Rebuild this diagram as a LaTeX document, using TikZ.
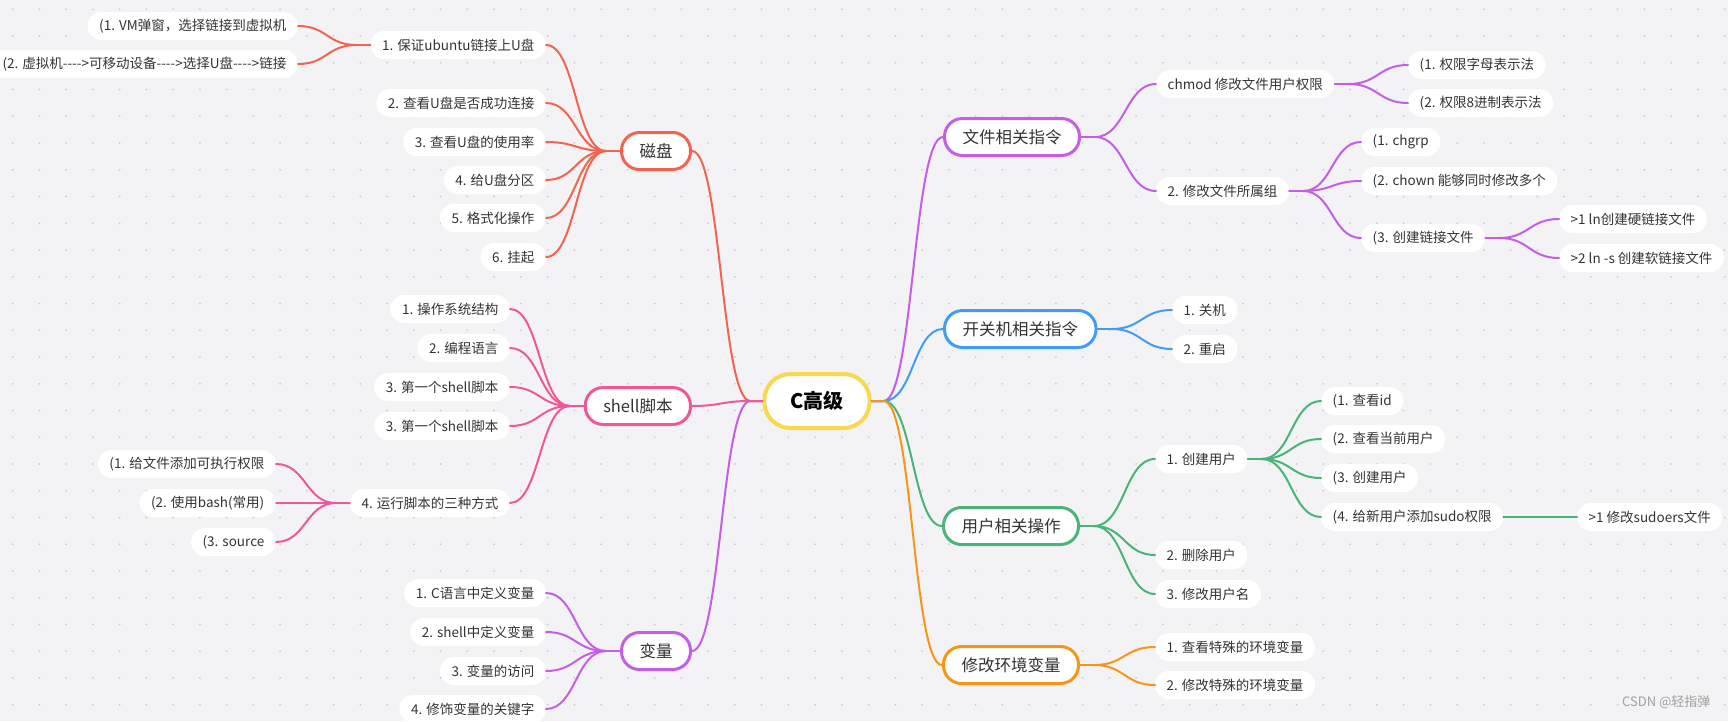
\documentclass[tikz,border=0pt]{standalone}
\usepackage{fontspec}
\setmainfont{Noto Sans CJK SC}
\usepackage{xcolor}
\usetikzlibrary{calc}
\definecolor{bg}{RGB}{243,243,245}
\definecolor{dotc}{RGB}{203,203,208}
\definecolor{txt}{RGB}{51,51,51}
\definecolor{yel}{RGB}{247,216,80}
\definecolor{cred}{RGB}{241,101,80}
\definecolor{cpink}{RGB}{238,88,150}
\definecolor{cpurp}{RGB}{196,94,228}
\definecolor{cblue}{RGB}{66,156,246}
\definecolor{cgreen}{RGB}{72,180,122}
\definecolor{corange}{RGB}{246,150,22}
\definecolor{wm}{RGB}{160,160,160}
\newcommand\arrw{-\kern0pt-\kern0pt-\kern0pt-\kern0pt>}

\begin{document}
\begin{tikzpicture}[x=1pt,y=-1pt,
  leaf/.style={fill=white,rounded corners=13.5pt,minimum height=28pt,inner xsep=11.5pt,inner ysep=0pt,text=txt,font=\fontsize{13.5}{16}\selectfont},
  topic/.style={fill=white,line width=3pt,rounded corners=18pt,minimum height=37pt,inner xsep=18pt,inner ysep=0pt,text=txt,font=\fontsize{16.5}{19}\selectfont},
  branch/.style={to path={let \p1=(\tikztostart),\p2=(\tikztotarget),\n1={(\x2-\x1)/2},\n2={(\x1-\x2)/2} in .. controls +(\n1,0pt) and +(\n2,0pt) .. (\tikztotarget)}},
  link/.style={line width=2pt,line cap=round}]
\useasboundingbox (0,0) rectangle (1728,721);
\fill[bg] (0,0) rectangle (1728,721);
\foreach \i in {0,...,64}
  \foreach \j in {0,...,26}
    \fill[dotc] ({12.6+26.75*\i},{9.3+26.75*\j}) circle (1pt);

% center
\node[draw=yel,fill=white,line width=4pt,rounded corners=26pt,minimum height=54pt,inner xsep=26pt,inner ysep=0pt,font=\fontsize{20}{24}\selectfont\bfseries] (root) at (817,401) {C高级};

% left side
\node[topic,draw=cred,anchor=east] (cipan) at (692,151) {磁盘};
\node[topic,draw=cpink,anchor=east] (shell) at (692,406) {shell脚本};
\node[topic,draw=cpurp,anchor=east] (bianl) at (692,651) {变量};

\node[leaf,anchor=east] (cp1) at (546,45) {1. 保证ubuntu链接上U盘};
\node[leaf,anchor=east] (cp2) at (546,103) {2. 查看U盘是否成功连接};
\node[leaf,anchor=east] (cp3) at (546,142) {3. 查看U盘的使用率};
\node[leaf,anchor=east] (cp4) at (546,180) {4. 给U盘分区};
\node[leaf,anchor=east] (cp5) at (546,218) {5. 格式化操作};
\node[leaf,anchor=east] (cp6) at (546,257) {6. 挂起};
\node[leaf,anchor=east] (cp11) at (298,26) {(1. VM弹窗，选择链接到虚拟机};
\node[leaf,anchor=east] (cp12) at (298,64) {(2. 虚拟机\arrw 可移动设备\arrw 选择U盘\arrw 链接};

\node[leaf,anchor=east] (sh1) at (510,309) {1. 操作系统结构};
\node[leaf,anchor=east] (sh2) at (510,348) {2. 编程语言};
\node[leaf,anchor=east] (sh3) at (510,387) {3. 第一个shell脚本};
\node[leaf,anchor=east] (sh4) at (510,426) {3. 第一个shell脚本};
\node[leaf,anchor=east] (sh5) at (510,503) {4. 运行脚本的三种方式};
\node[leaf,anchor=east] (sh51) at (276,464) {(1. 给文件添加可执行权限};
\node[leaf,anchor=east] (sh52) at (276,503) {(2. 使用bash(常用)};
\node[leaf,anchor=east] (sh53) at (276,542) {(3. source};

\node[leaf,anchor=east] (bl1) at (546,593) {1. C语言中定义变量};
\node[leaf,anchor=east] (bl2) at (546,632) {2. shell中定义变量};
\node[leaf,anchor=east] (bl3) at (546,671) {3. 变量的访问};
\node[leaf,anchor=east] (bl4) at (546,709) {4. 修饰变量的关键字};

% right side
\node[topic,draw=cpurp,anchor=west] (wenj) at (943,137) {文件相关指令};
\node[topic,draw=cblue,anchor=west] (kaig) at (943,329) {开关机相关指令};
\node[topic,draw=cgreen,anchor=west] (yongh) at (942,526) {用户相关操作};
\node[topic,draw=corange,anchor=west] (huanj) at (942,665) {修改环境变量};

\node[leaf,anchor=west] (wj1) at (1156,84) {chmod 修改文件用户权限};
\node[leaf,anchor=west] (wj2) at (1156,191) {2. 修改文件所属组};
\node[leaf,anchor=west] (wj11) at (1408,65) {(1. 权限字母表示法};
\node[leaf,anchor=west] (wj12) at (1408,103) {(2. 权限8进制表示法};
\node[leaf,anchor=west] (wj21) at (1361,142) {(1. chgrp};
\node[leaf,anchor=west] (wj22) at (1361,181) {(2. chown 能够同时修改多个};
\node[leaf,anchor=west] (wj23) at (1361,238) {(3. 创建链接文件};
\node[leaf,anchor=west] (wj231) at (1559,219) {>1 ln创建硬链接文件};
\node[leaf,anchor=west] (wj232) at (1559,258) {>2 ln -s 创建软链接文件};

\node[leaf,anchor=west] (kg1) at (1172,310) {1. 关机};
\node[leaf,anchor=west] (kg2) at (1172,349) {2. 重启};

\node[leaf,anchor=west] (yh1) at (1155,459) {1. 创建用户};
\node[leaf,anchor=west] (yh2) at (1155,555) {2. 删除用户};
\node[leaf,anchor=west] (yh3) at (1155,594) {3. 修改用户名};
\node[leaf,anchor=west] (yh11) at (1321,401) {(1. 查看id};
\node[leaf,anchor=west] (yh12) at (1321,439) {(2. 查看当前用户};
\node[leaf,anchor=west] (yh13) at (1321,478) {(3. 创建用户};
\node[leaf,anchor=west] (yh14) at (1321,517) {(4. 给新用户添加sudo权限};
\node[leaf,anchor=west] (yh141) at (1577,517) {>1 修改sudoers文件};

\node[leaf,anchor=west] (hj1) at (1155,647) {1. 查看特殊的环境变量};
\node[leaf,anchor=west] (hj2) at (1155,685) {2. 修改特殊的环境变量};

\node[anchor=east,text=wm,font=\fontsize{13}{15}\selectfont] (mark) at (1714,702) {CSDN @轻指弹};

% hubs
\coordinate (rootL) at ([xshift=-12pt]root.west);
\coordinate (rootR) at ([xshift=12pt]root.east);
\foreach \n in {cipan,shell,bianl,cp1,sh5}
  \coordinate (\n H) at ([xshift=-14pt]\n.west);
\foreach \n in {wenj,kaig,yongh,huanj,wj1,wj2,wj23,yh1}
  \coordinate (\n H) at ([xshift=14pt]\n.east);

% links
\draw[link,cred] (root.west) -- (rootL) to[branch] (cipan.east);
\draw[link,cpurp] (root.west) -- (rootL) to[branch] (bianl.east);
\draw[link,cpink] (root.west) -- (rootL) to[branch] (shell.east);
\draw[link,cpurp] (root.east) -- (rootR) to[branch] (wenj.west);
\draw[link,cblue] (root.east) -- (rootR) to[branch] (kaig.west);
\draw[link,cgreen] (root.east) -- (rootR) to[branch] (yongh.west);
\draw[link,corange] (root.east) -- (rootR) to[branch] (huanj.west);

\draw[link,cred] (cipan.west) -- (cipanH);
\foreach \c in {cp1,cp2,cp3,cp4,cp5,cp6}
  \draw[link,cred] (cipanH) to[branch] (\c.east);
\draw[link,cred] (cp1.west) -- (cp1H);
\foreach \c in {cp11,cp12}
  \draw[link,cred] (cp1H) to[branch] (\c.east);

\draw[link,cpink] (shell.west) -- (shellH);
\foreach \c in {sh1,sh2,sh3,sh4,sh5}
  \draw[link,cpink] (shellH) to[branch] (\c.east);
\draw[link,cpink] (sh5.west) -- (sh5H);
\foreach \c in {sh51,sh52,sh53}
  \draw[link,cpink] (sh5H) to[branch] (\c.east);

\draw[link,cpurp] (bianl.west) -- (bianlH);
\foreach \c in {bl1,bl2,bl3,bl4}
  \draw[link,cpurp] (bianlH) to[branch] (\c.east);

\draw[link,cpurp] (wenj.east) -- (wenjH);
\foreach \c in {wj1,wj2}
  \draw[link,cpurp] (wenjH) to[branch] (\c.west);
\draw[link,cpurp] (wj1.east) -- (wj1H);
\foreach \c in {wj11,wj12}
  \draw[link,cpurp] (wj1H) to[branch] (\c.west);
\draw[link,cpurp] (wj2.east) -- (wj2H);
\foreach \c in {wj21,wj22,wj23}
  \draw[link,cpurp] (wj2H) to[branch] (\c.west);
\draw[link,cpurp] (wj23.east) -- (wj23H);
\foreach \c in {wj231,wj232}
  \draw[link,cpurp] (wj23H) to[branch] (\c.west);

\draw[link,cblue] (kaig.east) -- (kaigH);
\foreach \c in {kg1,kg2}
  \draw[link,cblue] (kaigH) to[branch] (\c.west);

\draw[link,cgreen] (yongh.east) -- (yonghH);
\foreach \c in {yh1,yh2,yh3}
  \draw[link,cgreen] (yonghH) to[branch] (\c.west);
\draw[link,cgreen] (yh1.east) -- (yh1H);
\foreach \c in {yh11,yh12,yh13,yh14}
  \draw[link,cgreen] (yh1H) to[branch] (\c.west);
\draw[link,cgreen] (yh14.east) -- (yh141.west);

\draw[link,corange] (huanj.east) -- (huanjH);
\foreach \c in {hj1,hj2}
  \draw[link,corange] (huanjH) to[branch] (\c.west);
\end{tikzpicture}
\end{document}
